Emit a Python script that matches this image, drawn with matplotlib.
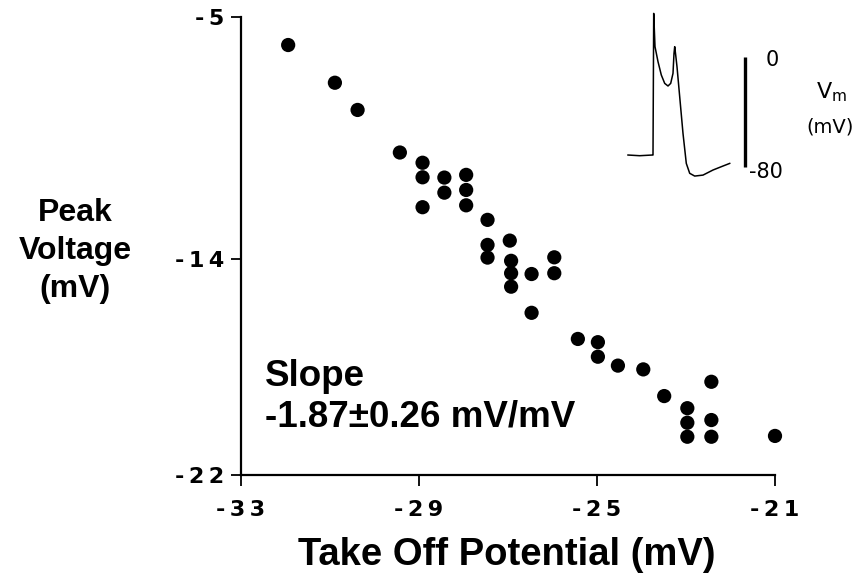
import numpy as np
import matplotlib.pyplot as plt

# take-off potential vs peak voltage (mV)
take_off = [-31.94, -30.89, -30.38, -29.43, -28.92, -28.92, -28.92, -28.43, -28.43,
            -27.94, -27.94, -27.94, -27.46, -27.46, -27.46, -26.96, -26.93, -26.93,
            -26.93, -26.47, -26.47, -25.96, -25.96, -25.43, -24.98, -24.98, -24.53,
            -23.96, -23.49, -22.97, -22.97, -22.97, -22.43, -22.43, -22.43, -21.0]
peak_v = [-6.04, -7.44, -8.45, -10.03, -10.41, -10.95, -12.06, -10.96, -11.52,
          -10.86, -11.42, -11.99, -12.53, -13.46, -13.93, -13.30, -14.05, -14.51,
          -15.01, -14.54, -15.98, -13.92, -14.51, -16.95, -17.07, -17.61, -17.94,
          -18.08, -19.07, -19.52, -20.06, -20.58, -18.54, -19.96, -20.58, -20.55]

x_ticks = [-33, -29, -25, -21]
y_ticks = [-22, -14, -5]

# inset action potential trace (arbitrary time units, mV)
trace_t = [0, 11.7, 24.3, 25, 25.7, 27, 30, 33.3, 36.7, 40, 42.7, 45, 46, 46.7,
           47.7, 49, 51.7, 55, 58.3, 61.7, 66.7, 75, 85, 95, 101.7]
trace_v = [-71.5, -72, -71.5, -71.5, 31.5, 7.3, -3.6, -13.3, -19.4, -21.3, -19.4,
           -12.1, 2.4, 7.3, 1.2, -7.3, -29.1, -55.8, -77.6, -84.8, -86.8, -86.1,
           -82.4, -79.5, -77.6]
bar_t = 116.7
bar_v = [0, -80]

bold = dict(family="Liberation Sans", weight="bold", color="black")


def spaced(v):
    # the scanned tick labels are set with wide letter spacing
    return "\u2009".join(str(v))


fig = plt.figure(figsize=(8.6, 5.75), dpi=100)
ax = fig.add_axes([241 / 860, 1 - 475 / 575, 534 / 860, 458 / 575])

ax.scatter(take_off, peak_v, s=105, color="black", edgecolor="none", zorder=3,
           clip_on=False)

ax.set_xlim(-33, -21)
ax.set_ylim(-22, -5)
ax.set_xticks(x_ticks)
ax.set_xticklabels([spaced(v) for v in x_ticks])
ax.set_yticks(y_ticks)
ax.set_yticklabels([spaced(v) for v in y_ticks])
for s in ["top", "right"]:
    ax.spines[s].set_visible(False)
for s in ["left", "bottom"]:
    ax.spines[s].set_linewidth(1.6)
ax.tick_params(axis="x", direction="out", length=8, width=1.3, pad=10, labelsize=16)
ax.tick_params(axis="y", direction="out", length=7, width=1.3, pad=5, labelsize=16)
for lab in ax.get_xticklabels() + ax.get_yticklabels():
    lab.set_fontweight("semibold")

fig.text(507 / 860, 1 - 555 / 575, "Take Off Potential (mV)", ha="center",
         va="center", fontsize=27.5, **bold)
fig.text(75 / 860, 1 - 251 / 575, "Peak\nVoltage\n(mV)", ha="center", va="center",
         fontsize=23, linespacing=1.33, **bold)
fig.text(265 / 860, 1 - 397 / 575, "Slope\n-1.87\u00b10.26 mV/mV", ha="left",
         va="center", fontsize=26.5, linespacing=1.2, **bold)

# inset trace
ins = fig.add_axes([620 / 860, 1 - 185 / 575, 140 / 860, 180 / 575])
ins.plot(trace_t, trace_v, color="black", lw=1.1)
ins.plot([bar_t, bar_t], bar_v, color="black", lw=2.4, solid_capstyle="butt")
ins.set_xlim(-8, 132)
ins.set_ylim(-93.3, 37.6)
ins.axis("off")

fig.text(766 / 860, 1 - 60 / 575, "0", ha="left", va="center", fontsize=15)
fig.text(749 / 860, 1 - 172 / 575, "-80", ha="left", va="center", fontsize=15)
fig.text(832 / 860, 1 - 92 / 575, r"$\mathregular{V_m}$", ha="center", va="center",
         fontsize=16)
fig.text(830 / 860, 1 - 127 / 575, "(mV)", ha="center", va="center", fontsize=14)

fig.savefig("out.png", dpi=100)
